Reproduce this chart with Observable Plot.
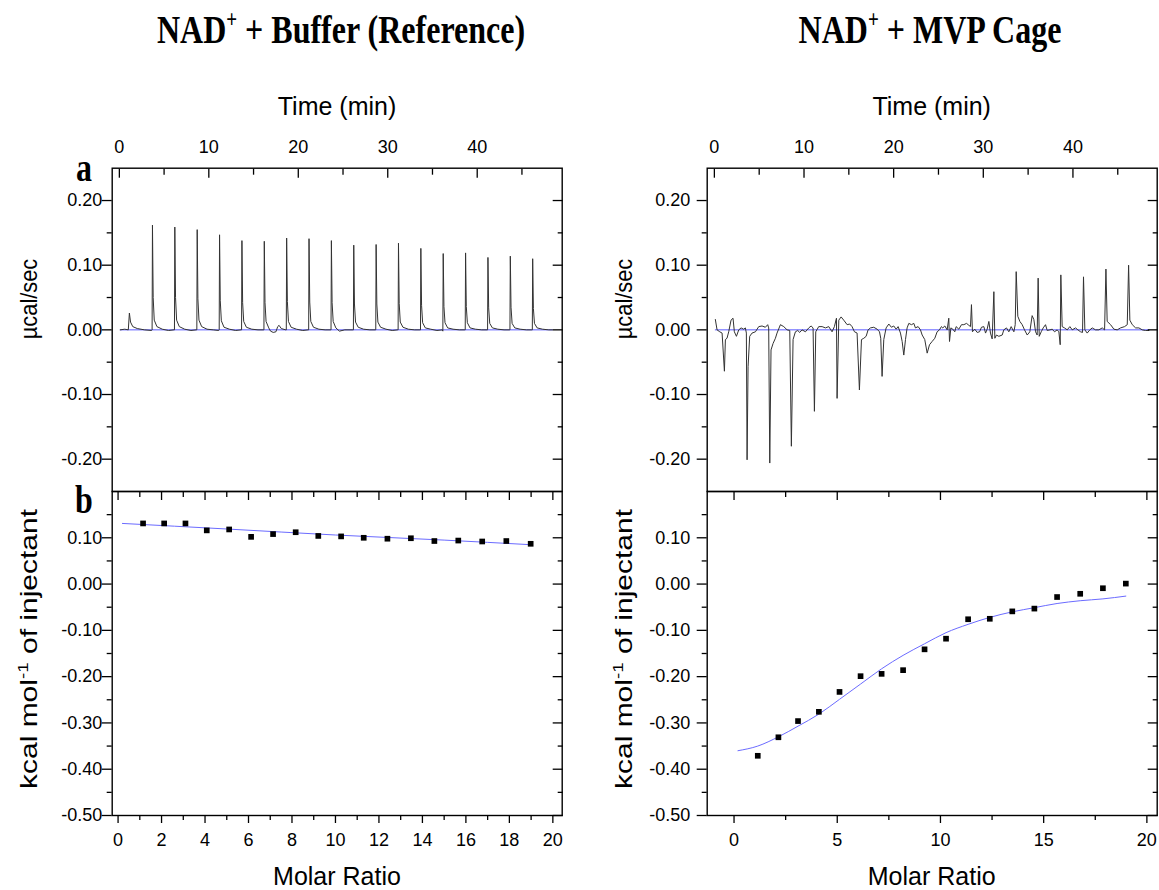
<!DOCTYPE html>
<html><head><meta charset="utf-8">
<script src="https://cdn.jsdelivr.net/npm/d3@7"></script>
<script src="https://cdn.jsdelivr.net/npm/@observablehq/plot@0.6"></script>
<style>
body{margin:0;background:#fff;}
#wrap{position:relative;width:1159px;height:890px;overflow:hidden;background:#fff;}
.panel{position:absolute;}
.panel svg{overflow:visible;}
</style></head>
<body><div id="wrap"></div>
<script>
// ---------- text ----------
const titleBuffer = ["NAD", "+", " + Buffer (Reference)"];
const titleCage = ["NAD", "+", " + MVP Cage"];
const timeLabel = "Time (min)";
const ratioLabel = "Molar Ratio";
const rawLabel = "µcal/sec";
const heatLabel = ["kcal mol", "-1", " of injectant"];
const panelLetters = ["a", "b"];

// ---------- ticks ----------
const timeTicks = [0, 10, 20, 30, 40];
const timeMinor = [5, 15, 25, 35, 45];
const rawTicks = [-0.2, -0.1, 0, 0.1, 0.2];
const rawMinor = [-0.15, -0.05, 0.05, 0.15];
const heatTicks = [-0.5, -0.4, -0.3, -0.2, -0.1, 0, 0.1];
const heatMinor = [-0.45, -0.35, -0.25, -0.15, -0.05, 0.05, 0.15];
const ratioTicksBuffer = [0, 2, 4, 6, 8, 10, 12, 14, 16, 18, 20];
const ratioMinorBuffer = [1, 3, 5, 7, 9, 11, 13, 15, 17, 19];
const ratioTicksCage = [0, 5, 10, 15, 20];
const ratioMinorCage = [2.5, 7.5, 12.5, 17.5];

// ---------- raw thermograms [time (min), µcal/sec] ----------
const rawBuffer = [
 [0.1,0],[0.6,0.001],[1.0,0],[1.12,0.026],[1.25,0.012],[1.5,0.005],[2.0,0.002],[2.8,0],[3.6,-0.001],
 [3.66,0],[3.7,0.162],[3.78,0.05],[3.9,0.015],[4.2,0.005],[4.8,0.001],[5.5,-0.001],[6.1,0],
 [6.16,0],[6.2,0.159],[6.28,0.05],[6.4,0.015],[6.7,0.005],[7.3,0.001],[8.0,-0.001],[8.6,0],
 [8.66,0],[8.7,0.155],[8.78,0.048],[8.9,0.015],[9.2,0.005],[9.8,0.001],[10.5,0],[11.1,-0.001],
 [11.16,0],[11.2,0.147],[11.28,0.045],[11.4,0.014],[11.7,0.004],[12.3,0.001],[13.0,-0.001],[13.6,0],
 [13.66,0],[13.7,0.138],[13.78,0.042],[13.9,0.013],[14.2,0.004],[14.8,0.001],[15.5,0],[16.1,0],
 [16.16,0],[16.2,0.137],[16.28,0.042],[16.4,0.013],[16.7,0.003],[16.9,-0.002],[17.2,-0.004],[17.5,-0.003],[17.7,0.005],[17.85,0.007],[18.1,0.002],[18.6,0],
 [18.66,0],[18.7,0.142],[18.78,0.044],[18.9,0.013],[19.2,0.004],[19.8,0.001],[20.5,-0.001],[21.1,0],
 [21.16,0],[21.2,0.141],[21.28,0.043],[21.4,0.013],[21.7,0.004],[22.3,0.001],[23.0,0],[23.6,0],
 [23.66,0],[23.7,0.138],[23.78,0.042],[23.9,0.013],[24.2,0.003],[24.6,-0.002],[25.2,0],[26.1,0],
 [26.16,0],[26.2,0.131],[26.28,0.04],[26.4,0.012],[26.7,0.004],[27.3,0.001],[28.0,0],[28.6,0],
 [28.66,0],[28.7,0.132],[28.78,0.04],[28.9,0.012],[29.2,0.004],[29.8,0.001],[30.5,-0.001],[31.1,0],
 [31.16,0],[31.2,0.134],[31.28,0.041],[31.4,0.012],[31.7,0.004],[32.3,0.001],[33.0,0],[33.6,0],
 [33.66,0],[33.7,0.126],[33.78,0.038],[33.9,0.011],[34.2,0.003],[34.8,0.001],[35.5,-0.001],[36.1,0],
 [36.16,-0.002],[36.2,0.118],[36.28,0.036],[36.4,0.011],[36.7,0.003],[37.3,0.001],[38.0,0],[38.6,0],
 [38.66,0],[38.7,0.119],[38.78,0.036],[38.9,0.011],[39.2,0.003],[39.8,0.001],[40.5,0],[41.1,0],
 [41.16,0],[41.2,0.112],[41.28,0.034],[41.4,0.010],[41.7,0.003],[42.3,0.001],[43.0,0],[43.6,0],
 [43.66,0],[43.7,0.114],[43.78,0.035],[43.9,0.010],[44.2,0.003],[44.8,0.001],[45.5,0],[46.1,0],
 [46.16,0],[46.2,0.110],[46.28,0.033],[46.4,0.010],[46.7,0.003],[47.3,0.001],[48.0,0],[48.4,0]
];
const rawCage = [
 [0.11,0.016],[0.30,0],[0.60,-0.003],[0.86,-0.005],[1.12,-0.064],[1.23,-0.015],[1.41,-0.013],[1.60,-0.003],
 [1.86,0.015],[2.08,0.018],[2.23,-0.003],[2.46,-0.010],[2.72,0],[2.98,0.003],[3.27,0.001],[3.46,0.003],
 [3.57,-0.005],[3.65,-0.201],[3.76,-0.057],[3.94,-0.010],[4.20,-0.005],[4.58,-0.003],[4.95,0.005],[5.32,0.006],
 [5.69,0.004],[5.95,0.008],[6.06,0.003],[6.18,-0.206],[6.32,-0.031],[6.55,-0.021],[6.81,-0.013],[6.99,-0.005],
 [7.37,0.008],[7.74,0.005],[8.11,0],[8.41,-0.001],[8.59,-0.180],[8.78,-0.015],[9.04,-0.003],[9.30,-0.001],
 [9.52,-0.004],[9.78,0],[10.16,-0.003],[10.53,0.003],[10.79,0.006],[11.01,0.003],[11.16,-0.126],[11.31,-0.003],
 [11.64,0.005],[12.02,0.005],[12.39,0.003],[12.76,0.005],[13.13,-0.003],[13.39,0.005],[13.62,0.018],[13.69,-0.106],
 [13.88,0.015],[14.14,0.020],[14.43,0.015],[14.81,0.008],[15.10,0.009],[15.36,0.005],[15.63,-0.003],[15.92,-0.005],
 [16.18,-0.093],[16.41,-0.015],[16.67,-0.013],[16.93,-0.010],[17.15,0],[17.41,0.003],[17.78,0.004],[18.16,0.001],
 [18.42,-0.003],[18.56,-0.013],[18.71,-0.072],[18.90,-0.015],[19.16,0.003],[19.46,0.009],[19.75,0.004],[20.01,0.006],
 [20.28,0.001],[20.50,0.005],[20.76,-0.005],[20.95,-0.018],[21.13,-0.039],[21.32,-0.015],[21.50,0.003],[21.69,0.010],
 [21.99,0.008],[22.25,0.010],[22.43,0.003],[22.73,0.005],[22.99,0],[23.18,-0.008],[23.47,-0.015],[23.74,-0.036],
 [24.00,-0.023],[24.29,-0.018],[24.59,-0.013],[24.85,-0.003],[25.11,0],[25.33,0.005],[25.48,0.003],[25.71,0.006],
 [25.97,0],[26.15,0.018],[26.23,-0.018],[26.38,0.003],[26.60,0.001],[26.82,-0.003],[26.97,0.005],[27.27,0.001],
 [27.57,0.008],[27.83,0.008],[28.13,0.010],[28.39,0.007],[28.57,0.005],[28.68,0.039],[28.79,-0.003],[29.05,0.001],
 [29.32,-0.004],[29.58,-0.003],[29.80,0.004],[30.06,0.005],[30.25,-0.005],[30.43,0.001],[30.62,0.013],[30.80,-0.005],
 [30.99,-0.014],[31.18,0.059],[31.29,-0.013],[31.47,-0.008],[31.73,-0.010],[32.11,-0.008],[32.29,0],[32.59,0.003],
 [32.85,-0.003],[33.11,0.005],[33.41,-0.003],[33.56,0.008],[33.67,0.090],[33.85,0.021],[34.08,0.013],[34.34,0.008],
 [34.60,0],[34.90,-0.008],[35.19,-0.003],[35.45,0.022],[35.64,0.016],[35.83,-0.003],[36.01,-0.008],[36.12,0.080],
 [36.24,-0.010],[36.46,-0.003],[36.68,0.003],[36.94,0.008],[37.13,-0.001],[37.43,0],[37.69,0.001],[37.95,-0.003],
 [38.24,0],[38.43,-0.003],[38.58,-0.023],[38.65,0.085],[38.80,0.005],[39.06,0.003],[39.36,0],[39.66,0.005],
 [39.92,0],[40.29,0.003],[40.55,0],[40.85,-0.003],[41.07,-0.004],[41.18,0.082],[41.33,0],[41.59,-0.005],
 [41.89,0],[42.15,0.003],[42.52,0],[42.89,0],[43.27,0.003],[43.53,0],[43.68,0.094],[43.82,0.013],
 [44.20,0.008],[44.57,0.001],[44.94,0],[45.31,0.003],[45.76,0.005],[46.06,0.008],[46.21,0.100],[46.35,0.015],
 [46.62,0.008],[46.99,0.003],[47.36,0.003],[47.73,0],[48.10,-0.001],[48.47,-0.001]
];
const baselineBuffer = [[0.1, 0], [48.4, 0]];
const baselineCage = [[0.1, 0], [48.5, 0]];

// ---------- integrated heats ----------
const ratioBuffer = [1.15, 2.12, 3.10, 4.08, 5.11, 6.12, 7.13, 8.17, 9.21, 10.26, 11.30, 12.39, 13.47, 14.55, 15.65, 16.75, 17.86, 18.98];
const heatBuffer  = [0.131, 0.131, 0.131, 0.116, 0.118, 0.102, 0.108, 0.112, 0.104, 0.103, 0.100, 0.098, 0.099, 0.093, 0.094, 0.092, 0.093, 0.087];
const fitBuffer = [[0.2, 0.131], [5, 0.119], [10, 0.106], [15, 0.095], [19, 0.085]];

const ratioCage = [1.15, 2.15, 3.10, 4.11, 5.11, 6.13, 7.15, 8.19, 9.23, 10.27, 11.34, 12.39, 13.48, 14.55, 15.65, 16.77, 17.87, 18.98];
const heatCage  = [-0.371, -0.331, -0.296, -0.276, -0.233, -0.199, -0.194, -0.186, -0.141, -0.118, -0.076, -0.075, -0.059, -0.053, -0.028, -0.021, -0.009, 0.001];
const fitCage = [[0.19, -0.360], [1.15, -0.350], [2.15, -0.330], [3.10, -0.307], [4.11, -0.281], [5.11, -0.249], [6.13, -0.216],
 [7.15, -0.183], [8.19, -0.154], [9.23, -0.129], [10.27, -0.105], [11.34, -0.087], [12.39, -0.072], [13.48, -0.060],
 [14.55, -0.051], [15.65, -0.042], [16.77, -0.036], [17.87, -0.032], [18.98, -0.026]];

// ---------- build ----------
const wrap = document.getElementById("wrap");
const FONT = "'Liberation Sans', Arial, sans-serif";
const fmt2 = d => d.toFixed(2);
const TK = 1.3;

function place(svg, left, top) {
  const div = document.createElement("div");
  div.className = "panel";
  div.style.left = left + "px";
  div.style.top = top + "px";
  div.appendChild(svg);
  wrap.appendChild(div);
}

function rawPanel(raw, base, o) {
  return Plot.plot({
    width: o.w, height: 431,
    marginTop: 107.7, marginBottom: 0, marginLeft: o.ml, marginRight: o.mr,
    x: {domain: o.xd, label: null},
    y: {domain: [-0.25, 0.25], label: null},
    style: {fontFamily: FONT, fontSize: "18px", color: "black", background: "transparent", overflow: "visible"},
    marks: [
      Plot.line(base, {x: d => d[0], y: d => d[1], stroke: "#5a5aff", strokeWidth: 1}),
      Plot.line(raw, {x: d => d[0], y: d => d[1], stroke: "#333", strokeWidth: 1}),
      Plot.frame({stroke: "black", strokeWidth: 1.4}),
      Plot.axisX(timeTicks, {anchor: "top", tickSize: 9, dy: 9, fill: "none", strokeWidth: TK}),
      Plot.axisX(timeMinor, {anchor: "top", tickSize: 6, dy: 6, fill: "none", strokeWidth: TK}),
      Plot.axisX(timeTicks, {anchor: "top", tickSize: 0, tickPadding: 15, fontSize: 18, label: null}),
      Plot.axisY(rawTicks, {anchor: "left", tickSize: 10, fill: "none", strokeWidth: TK}),
      Plot.axisY(rawMinor, {anchor: "left", tickSize: 5, fill: "none", strokeWidth: TK}),
      Plot.axisY(rawTicks, {anchor: "left", tickSize: 0, tickPadding: o.pad, tickFormat: fmt2, fontSize: 18, label: null}),
      Plot.axisY(rawTicks, {anchor: "right", tickSize: 10, dx: -10, fill: "none", strokeWidth: TK}),
      Plot.axisY(rawMinor, {anchor: "right", tickSize: 5, dx: -5, fill: "none", strokeWidth: TK})
    ]
  });
}

function heatPanel(rx, hy, fit, o) {
  return Plot.plot({
    width: o.w, height: 399,
    marginTop: 0, marginBottom: 75, marginLeft: o.ml, marginRight: o.mr,
    x: {domain: o.xd, label: null},
    y: {domain: [-0.5, 0.2], label: null},
    style: {fontFamily: FONT, fontSize: "18px", color: "black", background: "transparent", overflow: "visible"},
    marks: [
      Plot.line(fit, {x: d => d[0], y: d => d[1], stroke: "#6b6bff", strokeWidth: 1, curve: "monotone-x"}),
      Plot.dot(rx, {x: d => d, y: (d, i) => hy[i], symbol: "square", r: 3.2, fill: "black", stroke: "none"}),
      Plot.frame({stroke: "black", strokeWidth: 1.4}),
      Plot.axisX(o.ticks, {anchor: "bottom", tickSize: 8, fill: "none", strokeWidth: TK}),
      Plot.axisX(o.minor, {anchor: "bottom", tickSize: 5, fill: "none", strokeWidth: TK}),
      Plot.axisX(o.ticks, {anchor: "bottom", tickSize: 0, tickPadding: 18, fontSize: 18, label: null}),
      Plot.axisX(o.ticks, {anchor: "top", tickSize: 8, dy: 8, fill: "none", strokeWidth: TK}),
      Plot.axisX(o.minor, {anchor: "top", tickSize: 5, dy: 5, fill: "none", strokeWidth: TK}),
      Plot.axisY(heatTicks, {anchor: "left", tickSize: 10, fill: "none", strokeWidth: TK}),
      Plot.axisY(heatMinor, {anchor: "left", tickSize: 5, fill: "none", strokeWidth: TK}),
      Plot.axisY(heatTicks, {anchor: "left", tickSize: 0, tickPadding: o.pad, tickFormat: fmt2, fontSize: 18, label: null}),
      Plot.axisY(heatTicks, {anchor: "right", tickSize: 10, dx: -10, fill: "none", strokeWidth: TK}),
      Plot.axisY(heatMinor, {anchor: "right", tickSize: 5, dx: -5, fill: "none", strokeWidth: TK})
    ]
  });
}

place(rawPanel(rawBuffer, baselineBuffer, {w: 580, ml: 111.7, mr: 18.3, xd: [-0.8, 49.5], pad: 10}), 0, 60);
place(heatPanel(ratioBuffer, heatBuffer, fitBuffer, {w: 580, ml: 111.7, mr: 18.3, xd: [-0.27, 20.43], pad: 10, ticks: ratioTicksBuffer, minor: ratioMinorBuffer}), 0, 491);
place(rawPanel(rawCage, baselineCage, {w: 579, ml: 126.7, mr: 2.3, xd: [-0.8, 49.4], pad: 17}), 580, 60);
place(heatPanel(ratioCage, heatCage, fitCage, {w: 579, ml: 126.7, mr: 2.3, xd: [-1.3, 20.5], pad: 17, ticks: ratioTicksCage, minor: ratioMinorCage}), 580, 491);

// ---------- overlay text ----------
const ov = d3.select(wrap).append("svg")
  .attr("width", 1159).attr("height", 890)
  .style("position", "absolute").style("left", 0).style("top", 0).style("pointer-events", "none");

function title(parts, cx, by) {
  const t = ov.append("text")
    .attr("transform", `translate(${cx},${by}) scale(1,1.28)`)
    .attr("text-anchor", "middle")
    .attr("font-family", "'Liberation Serif', 'Times New Roman', serif")
    .attr("font-weight", "bold").attr("font-size", 32).attr("fill", "black");
  t.append("tspan").text(parts[0]);
  t.append("tspan").attr("dy", -12).attr("font-size", 19).text(parts[1]);
  t.append("tspan").attr("dy", 12).text(parts[2]);
}
title(titleBuffer, 341, 43);
title(titleCage, 930, 43);

function sans(str, x, y, size) {
  ov.append("text").attr("x", x).attr("y", y).attr("text-anchor", "middle")
    .attr("font-family", FONT).attr("font-size", size).attr("fill", "black").text(str);
}
sans(timeLabel, 337, 115, 25);
sans(timeLabel, 931.7, 115, 25);
sans(ratioLabel, 337, 885, 25);
sans(ratioLabel, 931.7, 885, 25);

function letter(str, x, y) {
  ov.append("text").attr("transform", `translate(${x},${y}) scale(1,1.28)`).attr("text-anchor", "middle")
    .attr("font-family", "'Liberation Serif', 'Times New Roman', serif").attr("font-weight", "bold")
    .attr("font-size", 32).attr("fill", "black").text(str);
}
letter(panelLetters[0], 84, 181);
letter(panelLetters[1], 84, 513);

function yLabelRaw(x, cy) {
  ov.append("text").attr("transform", `translate(${x},${cy}) rotate(-90) scale(0.95,1)`).attr("text-anchor", "middle")
    .attr("font-family", FONT).attr("font-size", 23).attr("fill", "black").text(rawLabel);
}
function yLabelHeat(x, cy) {
  const t = ov.append("text").attr("transform", `translate(${x},${cy}) rotate(-90) scale(1.25,1)`).attr("text-anchor", "middle")
    .attr("font-family", FONT).attr("font-size", 24).attr("fill", "black");
  t.append("tspan").text(heatLabel[0]);
  t.append("tspan").attr("dy", -9).attr("font-size", 15).text(heatLabel[1]);
  t.append("tspan").attr("dy", 9).text(heatLabel[2]);
}
yLabelRaw(37, 299);
yLabelHeat(37, 649);
yLabelRaw(632, 299);
yLabelHeat(632, 649);
</script>
</body></html>
